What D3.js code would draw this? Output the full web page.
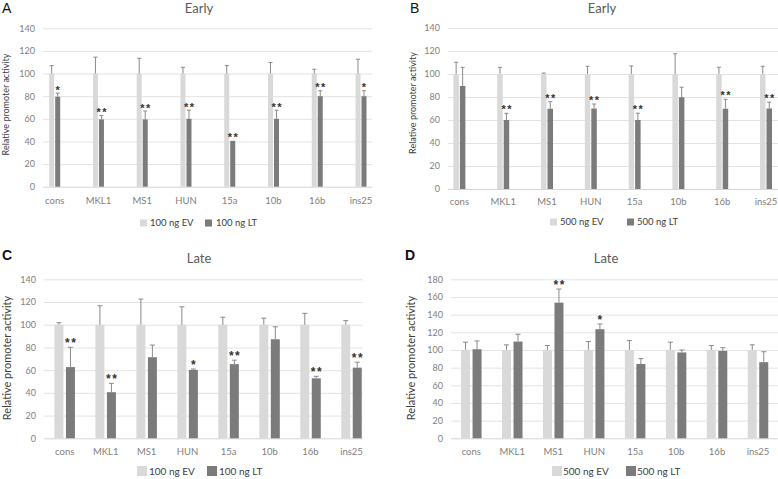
<!DOCTYPE html>
<html><head><meta charset="utf-8">
<script src="https://cdn.jsdelivr.net/npm/d3@7"></script>
<style>
html,body{margin:0;padding:0;background:#fff;}
svg{display:block;font-family:Lato,"Open Sans",sans-serif;}
</style></head>
<body>
<svg id="chart" width="778" height="479"></svg>
<script>
// ---------------- DATA ----------------
const categories = ["cons","MKL1","MS1","HUN","15a","10b","16b","ins25"];

// Panel A — Early, 100 ng
const A_ev    = [100,100,100,100,100,100,100,100];
const A_evErr = [7,14.5,13.5,5.5,7,9.8,3.8,12.7];
const A_lt    = [79.5,59.5,59.5,60,40.5,60,80,80];
const A_ltErr = [3.2,3.4,7.4,7.6,0,7.6,4.8,4.8];
const A_sig   = ["*","**","**","**","**","**","**","*"];

// Panel B — Early, 500 ng
const B_ev    = [100,100,100,100,100,100,100,100];
const B_evErr = [10.2,5.8,0.8,6.7,7,17.6,5.9,6.7];
const B_lt    = [89.6,60,69.8,70,60,79.8,69.8,70];
const B_ltErr = [16.2,5.8,6.1,3.9,5.9,8.7,8.2,5.5];
const B_sig   = ["","**","**","**","**","","**","**"];

// Panel C — Late, 100 ng
const C_ev    = [100,100,100,100,100,100,100,100];
const C_evErr = [1.8,16.7,22.6,15.8,6.6,5.8,10,3.6];
const C_lt    = [62.7,40.6,71.4,60.2,65.3,87.2,52.8,62.2];
const C_ltErr = [17.4,7.8,10.7,0.8,3.5,11,1.8,4.8];
const C_sig   = ["**","**","","*","**","","**","**"];

// Panel D — Late, 500 ng
const D_ev    = [100,100,100,100,100,100,100,100];
const D_evErr = [8.8,5.8,5,9.5,10.6,8.8,5,5.8];
const D_lt    = [100.8,109.5,153.6,123.5,84.2,97.2,99,86.2];
const D_ltErr = [9.4,8.3,15.4,5.9,6,2.8,3.6,11.8];
const D_sig   = ["","","**","*","","","",""];

const yTicksA = [0,20,40,60,80,100,120,140];
const yTicksD = [0,20,40,60,80,100,120,140,160,180];

const legendEV = ["100 ng EV","500 ng EV","100 ng EV","500 ng EV"];
const legendLT = ["100 ng LT","500 ng LT","100 ng LT","500 ng LT"];
const titles   = ["Early","Early","Late","Late"];
const letters  = ["A","B","C","D"];
const yTitle   = "Relative promoter activity";

// ---------------- LAYOUT ----------------
const panels = [
  {ev:A_ev,evErr:A_evErr,lt:A_lt,ltErr:A_ltErr,sig:A_sig,ticks:yTicksA,
   gx0:43,gx1:372,yTop:28.3,yBot:186.7,c0:54.7,c1:361,bw:5,gap:1,cap:4,
   tickFs:9,xlabY:203.5,starOff:0.5,starFs:11,
   title:[199,12.5],letter:[2,13,false],ytitle:[8.5,104.5,9],
   leg:{y:223,sw:7,ev:140,lt:205,evT:150,ltT:216,fs:9.5}},
  {ev:B_ev,evErr:B_evErr,lt:B_lt,ltErr:B_ltErr,sig:B_sig,ticks:yTicksA,
   gx0:448,gx1:778,yTop:28,yBot:189,c0:459.4,c1:766,bw:5.5,gap:1,cap:4,
   tickFs:9,xlabY:204.5,starOff:0,starFs:11,
   title:[602,12.5],letter:[410,13,false],ytitle:[415.5,103,9],
   leg:{y:222,sw:7,ev:550,lt:627,evT:560,ltT:637,fs:9.5}},
  {ev:C_ev,evErr:C_evErr,lt:C_lt,ltErr:C_ltErr,sig:C_sig,ticks:yTicksA,
   gx0:44,gx1:363,yTop:279.3,yBot:438.3,c0:64.7,c1:351.5,bw:9,gap:2.5,cap:5,
   tickFs:9,xlabY:454.5,starOff:0,starFs:12,
   title:[199,262.5],letter:[2,260,true],ytitle:[11,358,11],
   leg:{y:471,sw:10,ev:137,lt:207,evT:149,ltT:219,fs:10}},
  {ev:D_ev,evErr:D_evErr,lt:D_lt,ltErr:D_ltErr,sig:D_sig,ticks:yTicksD,
   gx0:451,gx1:778,yTop:279.3,yBot:438.3,c0:471.3,c1:758,bw:9,gap:2.5,cap:5,
   tickFs:9,xlabY:454.5,starOff:0,starFs:12,
   title:[606,263],letter:[405,260,true],ytitle:[415,358,11],
   leg:{y:471,sw:10,ev:552,lt:626,evT:563,ltT:637,fs:10}}
];

const COL_EV = "#d9d9d9", COL_LT = "#7b7b7b", COL_ERR = "#8a8a8a";
const svg = d3.select("#chart");

panels.forEach((p, i) => {
  const g = svg.append("g");
  const yMax = p.ticks[p.ticks.length - 1];
  const y = d3.scaleLinear().domain([0, yMax]).range([p.yBot, p.yTop]);
  const x = d3.scalePoint().domain(categories).range([p.c0, p.c1]);
  const sub = d3.scaleOrdinal().domain(["EV","LT"])
    .range([-(p.gap/2 + p.bw/2), (p.gap/2 + p.bw/2)]);

  // gridlines + y tick labels
  const ax = g.append("g").attr("transform", `translate(${p.gx0},0)`)
    .call(d3.axisLeft(y).tickValues(p.ticks).tickSize(-(p.gx1 - p.gx0)).tickPadding(8));
  ax.select(".domain").remove();
  ax.selectAll(".tick line").attr("stroke", "#e3e3e3").attr("stroke-width", 1);
  ax.selectAll(".tick").filter(d => d === 0).select("line").attr("stroke", "#d4d4d4");
  ax.selectAll(".tick text").attr("fill", "#808080").attr("font-size", p.tickFs)
    .attr("font-family", "Lato,sans-serif");

  // x labels
  g.append("g").selectAll("text").data(categories).join("text")
    .attr("x", d => x(d)).attr("y", p.xlabY).attr("text-anchor", "middle")
    .attr("fill", "#808080").attr("font-size", 9.5).text(d => d);

  const series = [
    {key:"EV", vals:p.ev, err:p.evErr, col:COL_EV},
    {key:"LT", vals:p.lt, err:p.ltErr, col:COL_LT}
  ];
  series.forEach(s => {
    const rows = categories.map((c, k) => ({c, v:s.vals[k], e:s.err[k]}));
    const cx = d => x(d.c) + sub(s.key);
    g.append("g").selectAll("rect").data(rows).join("rect")
      .attr("x", d => cx(d) - p.bw/2).attr("width", p.bw)
      .attr("y", d => y(d.v)).attr("height", d => y(0) - y(d.v))
      .attr("fill", s.col);
    const eg = g.append("g").attr("stroke", COL_ERR).attr("stroke-width", 1)
      .selectAll("g").data(rows.filter(d => d.e > 0)).join("g");
    eg.append("line").attr("x1", cx).attr("x2", cx)
      .attr("y1", d => y(d.v)).attr("y2", d => y(d.v + d.e));
    eg.append("line").attr("x1", d => cx(d) - p.cap/2).attr("x2", d => cx(d) + p.cap/2)
      .attr("y1", d => y(d.v + d.e)).attr("y2", d => y(d.v + d.e));
  });

  // significance stars
  const srows = categories.map((c, k) => ({c, s:p.sig[k], top:p.lt[k] + p.ltErr[k]}))
    .filter(d => d.s);
  g.append("g").selectAll("text").data(srows).join("text")
    .attr("x", d => x(d.c) + sub("LT")).attr("y", d => y(d.top) + p.starOff)
    .attr("dx", d => d.s.length > 1 ? 0.75 : 0)
    .attr("text-anchor", "middle").attr("font-size", p.starFs).attr("font-weight", "bold")
    .attr("font-family", "'Liberation Sans',Arial,sans-serif")
    .attr("letter-spacing", d => d.s.length > 1 ? 1.5 : 0).attr("fill", "#333")
    .text(d => d.s);

  // title
  g.append("text").attr("x", p.title[0]).attr("y", p.title[1]).attr("text-anchor", "middle")
    .attr("font-size", 13).attr("fill", "#595959").text(titles[i]);
  // panel letter
  g.append("text").attr("x", p.letter[0]).attr("y", p.letter[1])
    .attr("font-size", 14).attr("font-weight", p.letter[2] ? "bold" : "normal")
    .attr("font-family", "'Liberation Sans',Arial,sans-serif")
    .attr("fill", "#111").text(letters[i]);
  // y title
  g.append("text").attr("transform", `translate(${p.ytitle[0]},${p.ytitle[1]}) rotate(-90)`)
    .attr("text-anchor", "middle").attr("font-size", p.ytitle[2]).attr("fill", "#404040")
    .text(yTitle);

  // legend
  const L = p.leg;
  g.append("rect").attr("x", L.ev).attr("y", L.y - L.sw/2).attr("width", L.sw).attr("height", L.sw).attr("fill", COL_EV);
  g.append("rect").attr("x", L.lt).attr("y", L.y - L.sw/2).attr("width", L.sw).attr("height", L.sw).attr("fill", COL_LT);
  g.append("text").attr("x", L.evT).attr("y", L.y).attr("dy", "0.35em")
    .attr("font-size", L.fs).attr("fill", "#404040").text(legendEV[i]);
  g.append("text").attr("x", L.ltT).attr("y", L.y).attr("dy", "0.35em")
    .attr("font-size", L.fs).attr("fill", "#404040").text(legendLT[i]);
});
</script>
</body></html>
